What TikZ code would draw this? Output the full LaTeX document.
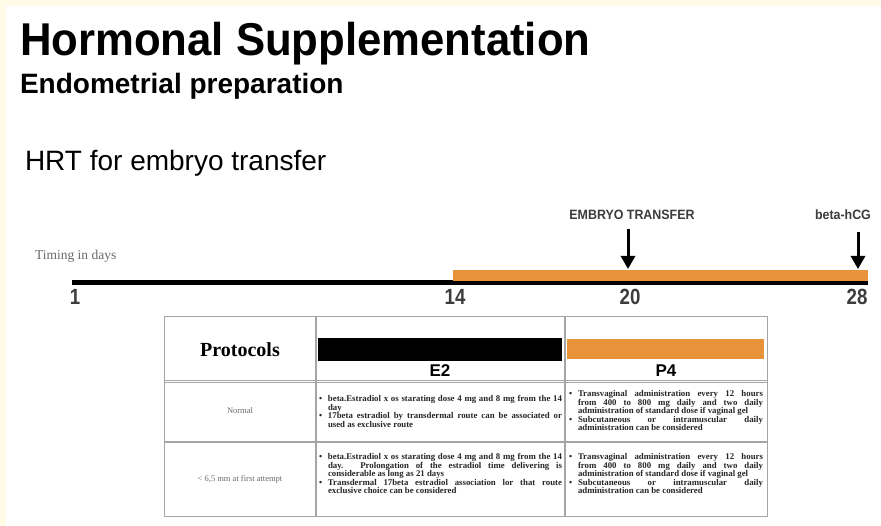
\documentclass[tikz,border=0pt]{standalone}
\usepackage{fontspec}
\setmainfont{Liberation Serif}
\setsansfont{Liberation Sans}
\usepackage{graphicx}
\usetikzlibrary{arrows.meta}
\definecolor{cream}{RGB}{255,251,230}
\definecolor{orng}{RGB}{232,146,58}
\definecolor{darkg}{RGB}{60,60,60}
\definecolor{tline}{RGB}{165,165,165}
\definecolor{lbl}{RGB}{105,105,105}
\newcommand{\hsq}[2]{\scalebox{#1}[1]{#2}}
\newcommand{\bitem}[1]{\par\hangindent=9pt\hangafter=1\noindent\makebox[9pt][l]{\textbullet}#1\par}
\tikzset{
  txt/.style={inner sep=0pt, outer sep=0pt},
  daynum/.style={txt, anchor=base, font=\sffamily\bfseries\fontsize{22}{24}\selectfont, text=darkg},
  evt/.style={txt, anchor=base, font=\sffamily\bfseries\fontsize{13.5}{15}\selectfont, text=darkg},
  evarrow/.style={line width=3pt, -{Triangle[width=14pt,length=13pt]}},
  cell/.style={txt, anchor=north west, align=justify, font=\rmfamily\bfseries\fontsize{8.8}{8.6}\selectfont, text=black!85},
  rowlbl/.style={txt, font=\rmfamily\fontsize{8.5}{10}\selectfont, text=lbl},
  hdr/.style={txt, font=\sffamily\bfseries\fontsize{17}{19}\selectfont}
}
\begin{document}
\begin{tikzpicture}[x=1pt,y=-1pt]
\fill[cream] (0,0) rectangle (881,526);
\fill[white] (6,6) rectangle (881,526);
\useasboundingbox (0,0) rectangle (881,526);

% titles
\node[txt, anchor=base west, font=\sffamily\bfseries\fontsize{46}{50}\selectfont] (title) at (20,56) {\hsq{0.95}{Hormonal Supplementation}};
\node[txt, anchor=base west, font=\sffamily\bfseries\fontsize{28}{30}\selectfont] (sub) at (20,94) {\hsq{1.0}{Endometrial preparation}};
\node[txt, anchor=base west, font=\sffamily\fontsize{28}{30}\selectfont] (hrt) at (25,171) {\hsq{1.0}{HRT for embryo transfer}};

% timeline
\node[txt, anchor=west, font=\rmfamily\fontsize{13.5}{15}\selectfont, text=lbl] (timing) at (35,256) {Timing in days};
\coordinate (t1) at (72,283);
\coordinate (t28) at (868,283);
\draw[line width=5pt] (t1) -- (t28);
\fill[orng] (453,270) rectangle (868,281);

\node[daynum] (d1) at (75,305) {\hsq{0.85}{1}};
\node[daynum] (d14) at (455,305) {\hsq{0.85}{14}};
\node[daynum] (d20) at (630,305) {\hsq{0.85}{20}};
\node[daynum] (d28) at (857,305) {\hsq{0.85}{28}};

\node[evt] (et) at (632,220) {\hsq{0.92}{EMBRYO TRANSFER}};
\node[evt, anchor=base west] (hcg) at (815,220) {\hsq{0.92}{beta-hCG}};
\coordinate (a1s) at (628,229);
\coordinate (a1e) at (628,269);
\coordinate (a2s) at (858,232);
\coordinate (a2e) at (858,269);
\draw[evarrow] (a1s) -- (a1e);
\draw[evarrow] (a2s) -- (a2e);

% table
\draw[tline, line width=1pt] (164,317) rectangle (767,516);
\draw[tline, line width=1.6pt] (316,317) -- (316,516);
\draw[tline, line width=1.6pt] (565,317) -- (565,516);
\draw[tline, line width=0.8pt] (164,380) -- (767,380);
\draw[tline, line width=0.8pt] (164,382.5) -- (767,382.5);
\draw[tline, line width=1.2pt] (164,442) -- (767,442);

\fill[black] (318,338) rectangle (562,361);
\fill[orng] (567,339) rectangle (764,359);

\node[txt, font=\rmfamily\bfseries\fontsize{20}{22}\selectfont] (proto) at (240,350) {Protocols};
\node[hdr] (e2) at (440,371) {E2};
\node[hdr] (p4) at (666,371) {P4};

\node[rowlbl] (normal) at (240,411) {Normal};
\node[rowlbl] (small) at (240,479) {\textless{} 6,5 mm at first attempt};

\node[cell, text width=243pt] (c22) at (319,393) {%
\bitem{beta.Estradiol x os starating dose 4 mg and 8 mg from the 14\linebreak day}%
\bitem{17beta estradiol by transdermal route can be associated or\linebreak used as exclusive route}};
\node[cell, text width=194pt] (c23) at (569,388) {%
\bitem{Transvaginal administration every 12 hours\linebreak from 400 to 800 mg daily and two daily\linebreak administration of standard dose if vaginal gel}%
\bitem{Subcutaneous or intramuscular daily\linebreak administration can be considered}};
\node[cell, text width=243pt] (c32) at (319,451) {%
\bitem{beta.Estradiol x os starating dose 4 mg and 8 mg from the 14\linebreak day. Prolongation of the estradiol time delivering is\linebreak considerable as long as 21 days}%
\bitem{Transdermal 17beta estradiol association lor that route\linebreak exclusive choice can be considered}};
\node[cell, text width=194pt] (c33) at (569,451) {%
\bitem{Transvaginal administration every 12 hours\linebreak from 400 to 800 mg daily and two daily\linebreak administration of standard dose if vaginal gel}%
\bitem{Subcutaneous or intramuscular daily\linebreak administration can be considered}};
\end{tikzpicture}
\end{document}
